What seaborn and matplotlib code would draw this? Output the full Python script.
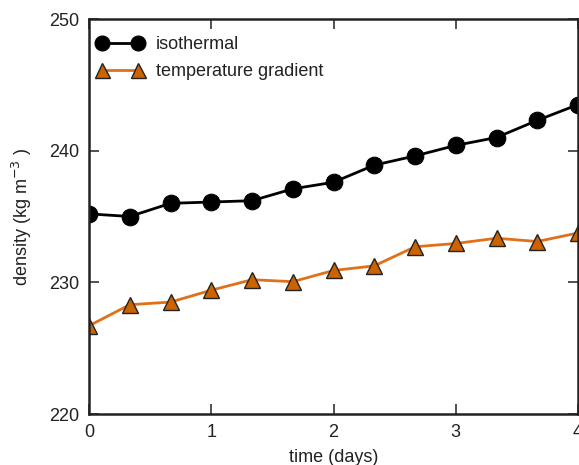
import numpy as np
import pandas as pd
import matplotlib
matplotlib.use("Agg")
import matplotlib.pyplot as plt
import seaborn as sns

time_days = [0, 1/3, 2/3, 1, 4/3, 5/3, 2, 7/3, 8/3, 3, 10/3, 11/3, 4]
isothermal = [235.2, 235.0, 236.0, 236.1, 236.2, 237.1, 237.6, 238.9, 239.6, 240.4, 241.0, 242.3, 243.5]
temp_gradient = [226.7, 228.3, 228.5, 229.4, 230.2, 230.05, 230.9, 231.25, 232.7, 232.95, 233.35, 233.1, 233.75]
series_names = ["isothermal", "temperature gradient"]
x_ticks = [0, 1, 2, 3, 4]
y_ticks = [220, 230, 240, 250]

df = pd.DataFrame({
    "time": time_days * 2,
    "density": isothermal + temp_gradient,
    "series": [series_names[0]] * len(time_days) + [series_names[1]] * len(time_days),
})

sns.set_style("ticks")
plt.rcParams["font.family"] = ["Liberation Sans", "DejaVu Sans"]
txt_color = "#222222"

fig = plt.figure(figsize=(5.79, 4.65), dpi=100)
ax = fig.add_axes([89/579, (465-414)/465, (578-89)/579, (414-19)/465])

sns.lineplot(data=df[df.series == series_names[0]], x="time", y="density",
             color="black", marker="o", markersize=12, markeredgecolor="black",
             markerfacecolor="black", linewidth=2, ax=ax, label=series_names[0])
sns.lineplot(data=df[df.series == series_names[1]], x="time", y="density",
             color="#E0701A", marker="^", markersize=12, markeredgecolor="#222222",
             markeredgewidth=1.0, markerfacecolor="#CC6300", linewidth=2, ax=ax,
             label=series_names[1])

ax.set_xlim(0, 4)
ax.set_ylim(220, 250)
ax.set_xticks(x_ticks)
ax.set_yticks(y_ticks)
ax.tick_params(direction="in", length=7, width=1.2, top=True, right=True,
               labelsize=13, colors="#333333", labelcolor=txt_color, pad=7)
ax.tick_params(axis="x", labeltop=False)
for s in ax.spines.values():
    s.set_linewidth(1.8)
    s.set_color("#222222")

ax.set_xlabel("time (days)", fontsize=13, labelpad=6, color=txt_color)
ax.set_ylabel("density (kg m$^{-3}$ )", fontsize=13, labelpad=11, color=txt_color)

leg = ax.legend(loc="upper left", frameon=False, numpoints=2, fontsize=13,
                handlelength=2.6, handletextpad=0.7, borderaxespad=0.55,
                labelspacing=0.55, markerscale=0.9, bbox_to_anchor=(-0.02, 1.0))
for t in leg.get_texts():
    t.set_color(txt_color)

fig.savefig("out.png", dpi=100)
